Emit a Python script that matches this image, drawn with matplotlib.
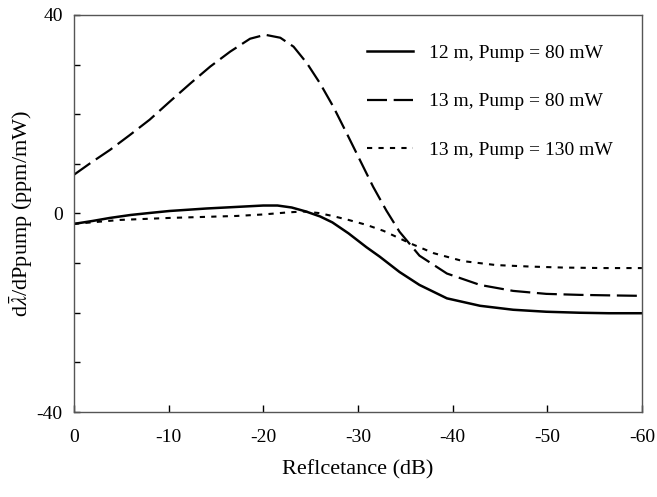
import matplotlib.pyplot as plt
import numpy as np

plt.rcParams['font.family'] = ['Liberation Serif', 'DejaVu Serif']
plt.rcParams['mathtext.fontset'] = 'stix'
plt.rcParams['axes.unicode_minus'] = False

# values (reflectance dB, ppm/mW)
x_12m_80 = [0, -2, -3.8, -6, -8, -10.1, -14, -18, -20, -21.5, -23, -24.5, -26,
            -27.3, -29, -30.9, -32.3, -34.4, -36.5, -39.4, -42.9, -46.4, -49.9,
            -53.4, -56.5, -60]
y_12m_80 = [-2.1, -1.5, -0.9, -0.3, 0.1, 0.5, 1.0, 1.4, 1.6, 1.6, 1.2, 0.4, -0.6,
            -1.8, -4.0, -6.8, -8.7, -11.8, -14.4, -17.1, -18.6, -19.4, -19.8,
            -20.0, -20.1, -20.1]

x_13m_80 = [0, -1.7, -3.8, -5.9, -8.0, -10.1, -12.3, -14.4, -16.5, -18.6, -20.2,
            -21.8, -23.2, -24.6, -26.0, -27.4, -28.8, -30.2, -31.6, -33.0, -34.4,
            -36.5, -39.4, -42.9, -46.4, -49.9, -53.4, -56.5, -60]
y_13m_80 = [7.8, 10.1, 12.8, 15.8, 18.9, 22.5, 26.2, 29.6, 32.6, 35.2, 36.0,
            35.4, 33.6, 30.3, 26.2, 21.5, 16.2, 10.8, 5.4, 0.6, -3.7,
            -8.5, -12.1, -14.4, -15.6, -16.2, -16.4, -16.5, -16.6]

x_13m_130 = [0, -4.9, -10.1, -17.2, -20, -22.5, -24.2, -25.8, -27.3, -29, -30.9,
             -32.7, -35.5, -38.0, -41.1, -44.6, -48.2, -51.7, -56, -60]
y_13m_130 = [-2.1, -1.3, -0.9, -0.5, -0.2, 0.2, 0.4, 0.1, -0.5, -1.3, -2.3,
             -3.5, -6.0, -8.0, -9.6, -10.4, -10.7, -10.9, -11.0, -11.0]

labels = ['12 m, Pump = 80 mW', '13 m, Pump = 80 mW', '13 m, Pump = 130 mW']

fig = plt.figure(figsize=(6.57, 4.97), dpi=100)
ax = fig.add_axes([0.1126, 0.171, 0.8644, 0.799])

ax.plot(x_12m_80, y_12m_80, color='black', lw=1.8, label=labels[0])
ax.plot(x_13m_80, y_13m_80, color='black', lw=1.6, dashes=(9, 3), label=labels[1])
ax.plot(x_13m_130, y_13m_130, color='black', lw=1.5, dashes=(2.5, 3), label=labels[2])

ax.set_xlim(0, -60)
ax.set_ylim(-40, 40)
ax.set_xticks(np.arange(0, -61, -10))
ax.set_yticks([-40, 0, 40])
ax.set_yticks(np.arange(-30, 31, 10), minor=True)
ax.tick_params(axis='x', direction='in', length=5, width=1, pad=12, labelsize=14, top=False)
ax.tick_params(axis='y', which='both', direction='in', length=4, width=1, pad=8,
               labelsize=14, right=False)
for s in ax.spines.values():
    s.set_color('#555555')
    s.set_linewidth(1)

ax.set_xlabel('Reflcetance (dB)', fontsize=16, labelpad=10)
ax.set_ylabel(r'd$\bar{\lambda}$/dPpump (ppm/mW)', fontsize=16, labelpad=1)

ax.legend(loc='upper right', frameon=False, fontsize=14, handlelength=2.4,
          labelspacing=1.6, borderaxespad=1.1, handletextpad=0.8)

fig.savefig('out.png', dpi=100)
